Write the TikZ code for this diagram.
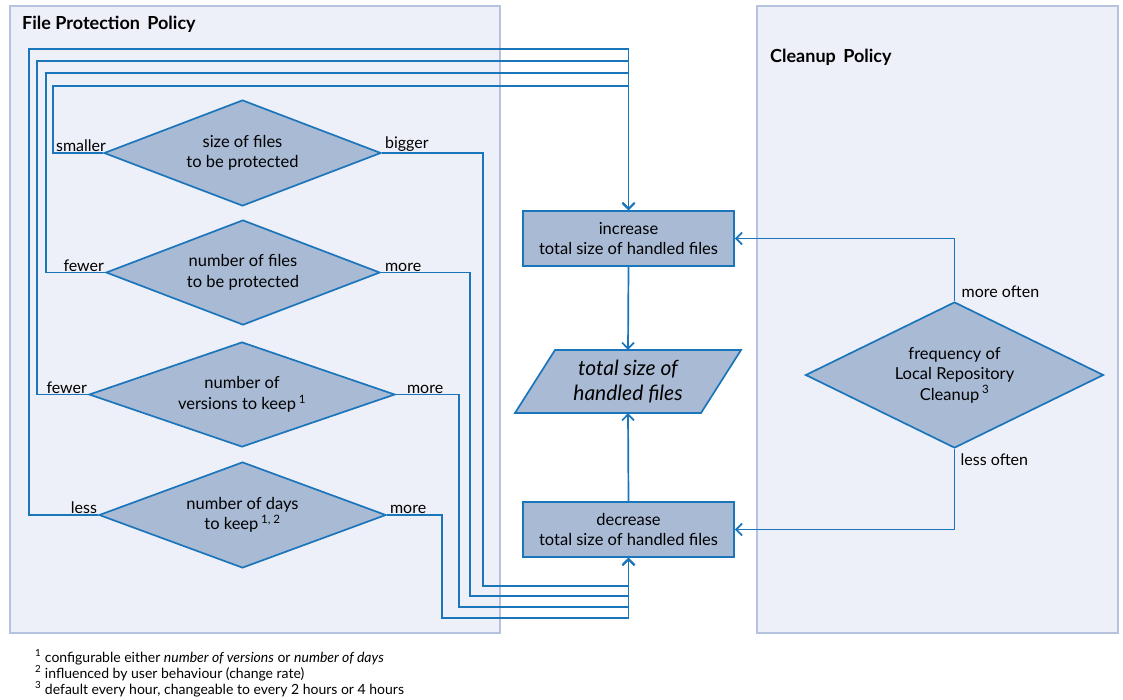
\documentclass[tikz,border=0pt]{standalone}
\usepackage{fontspec}
\setmainfont{Lato}
\usetikzlibrary{shapes.geometric,arrows.meta}
\definecolor{panelfill}{HTML}{EDF0F8}
\definecolor{panelline}{HTML}{B5C3DE}
\definecolor{shapefill}{HTML}{A9BAD5}
\definecolor{linecol}{HTML}{1B75BB}
\tikzset{
  panel/.style={draw=panelline, fill=panelfill, line width=1.3pt},
  dec/.style={diamond, draw=linecol, fill=shapefill, line width=1.7pt, inner sep=0pt, align=center, font=\fontsize{16.5}{20.5}\selectfont},
  act/.style={rectangle, draw=linecol, fill=shapefill, line width=1.7pt, minimum width=211pt, minimum height=55pt, inner sep=0pt, align=center, font=\fontsize{16.5}{20.5}\selectfont},
  conn/.style={draw=linecol, line width=1.7pt},
  arr/.style={conn, -{Straight Barb[length=6pt,width=12pt]}},
  lbl/.style={font=\fontsize{16}{20}\selectfont, inner sep=1pt},
  ttl/.style={font=\bfseries\fontsize{18}{20}\selectfont, anchor=base west, inner sep=0pt},
  fn/.style={font=\fontsize{14}{16}\selectfont, anchor=base west, inner sep=0pt}
}
\begin{document}
\begin{tikzpicture}[x=1pt,y=-1pt]
\useasboundingbox (0,0) rectangle (1123,699);
% panels
\draw[panel] (10,6) rectangle (500,633);
\draw[panel] (757,6) rectangle (1118,633);
\node[ttl] (t1) at (22,29) {File Protection\, Policy};
\node[ttl] (t2) at (770,62) {Cleanup\, Policy};
% decisions
\node[dec, aspect=2.6, minimum width=277pt, minimum height=106pt] (d1) at (242.5,153) {size of files\\to be protected};
\node[dec, aspect=2.6, minimum width=274pt, minimum height=105pt] (d2) at (243,272.5) {number of files\\to be protected};
\node[dec, aspect=2.9, minimum width=306pt, minimum height=105pt] (d3) at (242,394.5) {number of\\versions to keep\,\textsuperscript{1}};
\node[dec, aspect=2.7, minimum width=287pt, minimum height=106pt] (d4) at (242.5,515) {number of days\\to keep\,\textsuperscript{1, 2}};
\node[dec, aspect=2.0, minimum width=298pt, minimum height=146pt] (d5) at (954.5,375) {frequency of\\Local Repository\\Cleanup\,\textsuperscript{3}};
% actions
\node[act] (inc) at (628.5,238.5) {increase\\total size of handled files};
\node[act] (dcr) at (628.5,529.5) {decrease\\total size of handled files};
% parallelogram
\node[minimum width=140pt, minimum height=63pt, inner sep=0pt] (par) at (628,381.5) {};
\draw[draw=linecol, fill=shapefill, line width=1.7pt]
  (515,413) -- (555,350) -- (741,350) -- (701,413) -- cycle;
\node[align=center, font=\itshape\fontsize{21}{25}\selectfont] (partxt) at (par.center) {total size of\\handled files};
% labels
\node[lbl, anchor=south east] (l1a) at ([xshift=4pt]d1.west) {smaller};
\node[lbl, anchor=south west] (l1b) at ([xshift=2pt]d1.east) {bigger};
\node[lbl, anchor=south east] (l2a) at ([xshift=0pt]d2.west) {fewer};
\node[lbl, anchor=south west] (l2b) at ([xshift=3pt]d2.east) {more};
\node[lbl, anchor=south east] (l3a) at ([xshift=0pt]d3.west) {fewer};
\node[lbl, anchor=south west] (l3b) at ([xshift=10pt]d3.east) {more};
\node[lbl, anchor=south east] (l4a) at ([xshift=0pt]d4.west) {less};
\node[lbl, anchor=south west] (l4b) at ([xshift=2pt]d4.east) {more};
\node[lbl, anchor=south west] (l5a) at ([xshift=6pt,yshift=2pt]d5.north) {more often};
\node[lbl, anchor=north west] (l5b) at ([xshift=5pt,yshift=-4pt]d5.south) {less often};
% routing coordinates
\coordinate (a1) at (53,86);
\coordinate (a2) at (46,73);
\coordinate (a3) at (37,61);
\coordinate (a4) at (29,49);
\coordinate (b1) at (483,586);
\coordinate (b2) at (470,596);
\coordinate (b3) at (459,607);
\coordinate (b4) at (442,618);
% connectors to increase
\draw[arr] (d4.west) -| (a4) -| (inc.north);
\draw[arr] (d3.west) -| (a3) -| (inc.north);
\draw[arr] (d2.west) -| (a2) -| (inc.north);
\draw[arr] (d1.west) -| (a1) -| (inc.north);
% connectors to decrease
\draw[arr] (d4.east) -| (b4) -| (dcr.south);
\draw[arr] (d3.east) -| (b3) -| (dcr.south);
\draw[arr] (d2.east) -| (b2) -| (dcr.south);
\draw[arr] (d1.east) -| (b1) -| (dcr.south);
% center flow
\draw[arr] (inc.south) -- (par.north);
\draw[arr] (dcr.north) -- (par.south);
% cleanup
\draw[arr] (d5.north) |- (inc.east);
\draw[arr] (d5.south) |- (dcr.east);
% footnotes
\node[fn] (f1) at (35,662) {\textsuperscript{1} configurable either \textit{number of versions} or \textit{number of days}};
\node[fn] (f2) at (35,678) {\textsuperscript{2} influenced by user behaviour (change rate)};
\node[fn] (f3) at (35,694) {\textsuperscript{3} default every hour, changeable to every 2 hours or 4 hours};
\end{tikzpicture}
\end{document}
